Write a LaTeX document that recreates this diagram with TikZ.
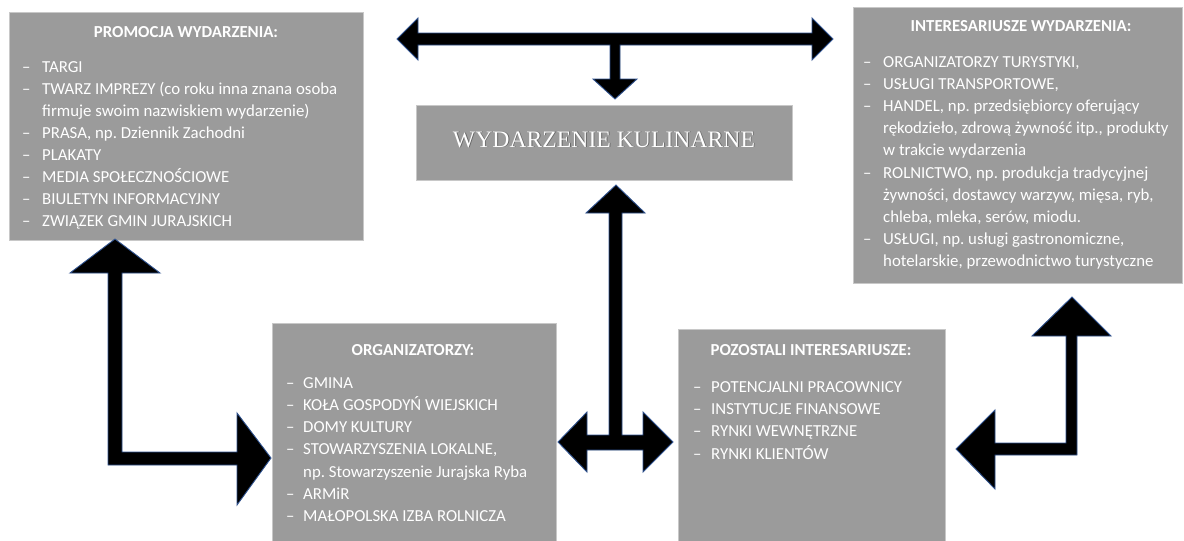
\documentclass[tikz,border=0pt]{standalone}
\usepackage{fontspec}
\setmainfont{Carlito}
\newfontfamily\titleserif{Liberation Serif}
\frenchspacing
\definecolor{boxgray}{HTML}{9B9B9B}
\definecolor{boxedge}{HTML}{C8C8C8}
\definecolor{arrowedge}{HTML}{2F528F}
\tikzset{
  panel/.style={fill=boxgray, draw=boxedge, line width=0.6pt, anchor=north west, inner sep=0pt},
  itemtext/.style={anchor=base west, inner sep=0pt, text=white, font=\fontsize{16.8}{22}\selectfont},
  headtext/.style={anchor=base, inner sep=0pt, text=white, font=\fontsize{16.8}{22}\selectfont\bfseries},
  blockarrow/.style={fill=black, draw=arrowedge, line width=0.9pt, line join=miter}
}
\begin{document}
\begin{tikzpicture}[x=1pt,y=-1pt]
\useasboundingbox (0,0) rectangle (1184,541);
\fill[white] (0,0) rectangle (1184,541);

% ---------- boxes ----------
\node[panel, minimum width=354pt, minimum height=228pt] (promo) at (9,12) {};
\node[panel, minimum width=329pt, minimum height=276pt] (inter) at (853,7) {};
\node[panel, minimum width=376pt, minimum height=75pt] (event) at (416,105) {};
\node[panel, minimum width=284pt, minimum height=222pt] (org) at (272,323) {};
\node[panel, minimum width=267pt, minimum height=216pt] (other) at (678,329) {};

% ---------- central title ----------
\node[anchor=base, inner sep=0pt, text=black!60, font=\titleserif\fontsize{23.7}{28}\selectfont] (eventshadow) at (604.9,147.9) {WYDARZENIE KULINARNE};
\node[anchor=base, inner sep=0pt, text=white, font=\titleserif\fontsize{23.7}{28}\selectfont] (eventtitle) at (604,147) {WYDARZENIE KULINARNE};

% ---------- PROMOCJA ----------
\node[headtext] (promoT) at (186,37) {PROMOCJA WYDARZENIA:};
\foreach \y/\d/\t [count=\i] in {
  72/–/TARGI,
  94/–/TWARZ IMPREZY (co roku inna znana osoba,
  116//firmuje swoim nazwiskiem wydarzenie),
  138/–/{PRASA, np. Dziennik Zachodni},
  160/–/PLAKATY,
  182/–/MEDIA SPOŁECZNOŚCIOWE,
  204/–/BIULETYN INFORMACYJNY,
  226/–/ZWIĄZEK GMIN JURAJSKICH}{
  \node[itemtext] (promoD\i) at (22,\y) {\d};
  \node[itemtext] (promoL\i) at (42,\y) {\t};
}

% ---------- INTERESARIUSZE ----------
\node[headtext] (interT) at (1021,31) {INTERESARIUSZE WYDARZENIA:};
\foreach \y/\d/\t [count=\i] in {
  67/–/{ORGANIZATORZY TURYSTYKI,},
  89.2/–/{USŁUGI TRANSPORTOWE,},
  111.4/–/{HANDEL, np. przedsiębiorcy oferujący},
  133.6//{rękodzieło, zdrową żywność itp., produkty},
  155.8//w trakcie wydarzenia,
  178/–/{ROLNICTWO, np. produkcja tradycyjnej},
  200.2//{żywności, dostawcy warzyw, mięsa, ryb,},
  222.4//{chleba, mleka, serów, miodu.},
  244.6/–/{USŁUGI, np. usługi gastronomiczne,},
  266.8//{hotelarskie, przewodnictwo turystyczne}}{
  \node[itemtext] (interD\i) at (863,\y) {\d};
  \node[itemtext] (interL\i) at (883,\y) {\t};
}

% ---------- ORGANIZATORZY ----------
\node[headtext] (orgT) at (413,355) {ORGANIZATORZY:};
\foreach \y/\d/\t [count=\i] in {
  388/–/GMINA,
  410.3/–/KOŁA GOSPODYŃ WIEJSKICH,
  432.6/–/DOMY KULTURY,
  454.9/–/{STOWARZYSZENIA LOKALNE,},
  477.2//np. Stowarzyszenie Jurajska Ryba,
  499.5/–/ARMiR,
  521.8/–/MAŁOPOLSKA IZBA ROLNICZA}{
  \node[itemtext] (orgD\i) at (286,\y) {\d};
  \node[itemtext] (orgL\i) at (303,\y) {\t};
}

% ---------- POZOSTALI ----------
\node[headtext] (otherT) at (811,355) {POZOSTALI INTERESARIUSZE:};
\foreach \y/\t [count=\i] in {
  392.5/POTENCJALNI PRACOWNICY,
  414.7/INSTYTUCJE FINANSOWE,
  436.9/RYNKI WEWNĘTRZNE,
  459.1/RYNKI KLIENTÓW}{
  \node[itemtext] (otherD\i) at (693,\y) {–};
  \node[itemtext] (otherL\i) at (711,\y) {\t};
}

% ---------- block arrows ----------
% top: left-right-down arrow
\draw[blockarrow] (397,39) -- (418,18) -- (418,33) -- (812,33) -- (812,18) -- (833,39)
  -- (812,60) -- (812,45) -- (620,45) -- (620,79) -- (637,79) -- (615,99) -- (593,79)
  -- (610,79) -- (610,45) -- (418,45) -- (418,60) -- cycle;

% centre: up arrow joined to left-right arrow
\draw[blockarrow] (616,185) -- (645,213) -- (622,213) -- (622,435) -- (643,435) -- (643,412)
  -- (673,442) -- (643,472) -- (643,450) -- (587,450) -- (587,472) -- (558,442) -- (587,412)
  -- (587,435) -- (609,435) -- (609,213) -- (586,213) -- cycle;

% left: bent up/right arrow
\draw[blockarrow] (115,239) -- (160,273) -- (122,273) -- (122,452) -- (237,452) -- (237,413)
  -- (271,458) -- (237,505) -- (237,465) -- (108,465) -- (108,273) -- (70,273) -- cycle;

% right: bent up/left arrow
\draw[blockarrow] (1072,297) -- (1111,336) -- (1077,336) -- (1077,455) -- (995,455) -- (995,489)
  -- (956,449) -- (995,410) -- (995,443) -- (1066,443) -- (1066,336) -- (1032,336) -- cycle;
\end{tikzpicture}
\end{document}
